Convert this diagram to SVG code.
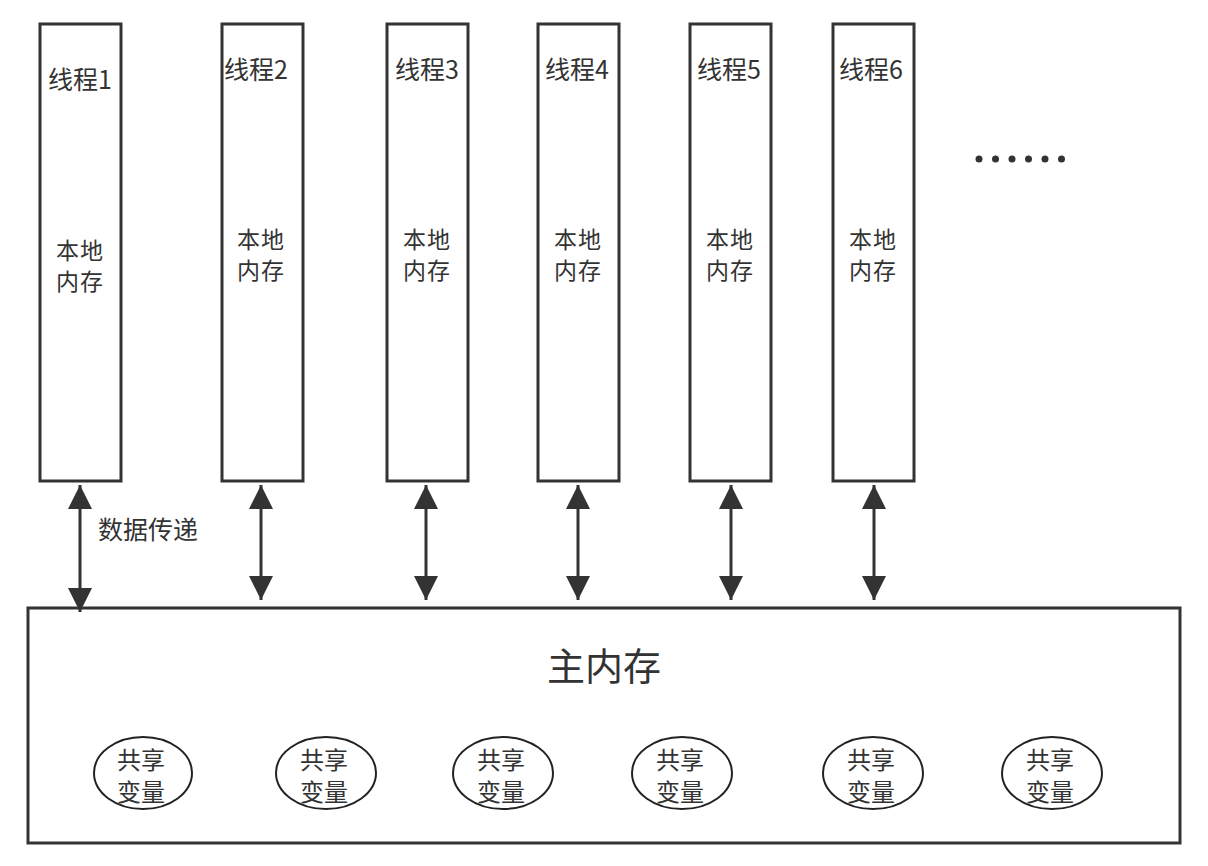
<svg xmlns="http://www.w3.org/2000/svg" width="1208" height="866" viewBox="0 0 1208 866">
<style>
.box{fill:#fff;stroke:#333;stroke-width:3}
.ell{fill:#fff;stroke:#222;stroke-width:2}
text{font-family:"Noto Sans CJK SC","Noto Sans",sans-serif;fill:#333;text-anchor:middle}
.t{font-size:25px}
.m{font-size:23px;letter-spacing:1px}
.s{font-size:24px}
.link{stroke:#333;stroke-width:3;fill:none;marker-start:url(#ah);marker-end:url(#ah)}
</style>
<defs>
<marker id="ah" viewBox="0 0 10 10" refX="10" refY="5" markerWidth="8" markerHeight="10" markerUnits="strokeWidth" orient="auto-start-reverse">
<path d="M0,0 L10,5 L0,10 z" fill="#333"/>
</marker>
</defs>
<rect width="1208" height="866" fill="#fff"/>
<g id="main-memory">
<rect class="box" x="28" y="608" width="1152" height="235"/>
<text x="604" y="680" style="font-size:38px">主内存</text>
</g>
<g id="var1"><ellipse class="ell" cx="143" cy="773" rx="49" ry="36"/><text class="s"><tspan x="141" y="769">共享</tspan><tspan x="141" y="801">变量</tspan></text></g>
<g id="var2"><ellipse class="ell" cx="326" cy="773" rx="50" ry="36"/><text class="s"><tspan x="324" y="769">共享</tspan><tspan x="324" y="801">变量</tspan></text></g>
<g id="var3"><ellipse class="ell" cx="503" cy="773" rx="50" ry="36"/><text class="s"><tspan x="501" y="769">共享</tspan><tspan x="501" y="801">变量</tspan></text></g>
<g id="var4"><ellipse class="ell" cx="682" cy="773" rx="50" ry="36"/><text class="s"><tspan x="680" y="769">共享</tspan><tspan x="680" y="801">变量</tspan></text></g>
<g id="var5"><ellipse class="ell" cx="873" cy="773" rx="50" ry="36"/><text class="s"><tspan x="871" y="769">共享</tspan><tspan x="871" y="801">变量</tspan></text></g>
<g id="var6"><ellipse class="ell" cx="1052" cy="773" rx="50" ry="36"/><text class="s"><tspan x="1050" y="769">共享</tspan><tspan x="1050" y="801">变量</tspan></text></g>
<g id="thread1"><rect class="box" x="40" y="24" width="81" height="457"/><text class="t" x="80" y="89">线程1</text><text class="m"><tspan x="80" y="259">本地</tspan><tspan x="80" y="290">内存</tspan></text></g>
<g id="thread2"><rect class="box" x="222" y="24" width="81" height="457"/><text class="t" x="256" y="79">线程2</text><text class="m"><tspan x="261" y="248">本地</tspan><tspan x="261" y="279">内存</tspan></text></g>
<g id="thread3"><rect class="box" x="387" y="24" width="81" height="457"/><text class="t" x="427" y="79">线程3</text><text class="m"><tspan x="427" y="248">本地</tspan><tspan x="427" y="279">内存</tspan></text></g>
<g id="thread4"><rect class="box" x="538" y="24" width="81" height="457"/><text class="t" x="577" y="79">线程4</text><text class="m"><tspan x="578" y="248">本地</tspan><tspan x="578" y="279">内存</tspan></text></g>
<g id="thread5"><rect class="box" x="690" y="24" width="81" height="457"/><text class="t" x="729" y="79">线程5</text><text class="m"><tspan x="730" y="248">本地</tspan><tspan x="730" y="279">内存</tspan></text></g>
<g id="thread6"><rect class="box" x="833" y="24" width="81" height="457"/><text class="t" x="871" y="79">线程6</text><text class="m"><tspan x="873" y="248">本地</tspan><tspan x="873" y="279">内存</tspan></text></g>
<g id="ellipsis" fill="#333">
<circle cx="979" cy="159" r="3.5"/><circle cx="995.5" cy="159" r="3.5"/><circle cx="1012" cy="159" r="3.5"/><circle cx="1028.5" cy="159" r="3.5"/><circle cx="1045" cy="159" r="3.5"/><circle cx="1061.5" cy="159" r="3.5"/>
</g>
<g id="connectors">
<line class="link" x1="80" y1="485" x2="80" y2="612"/>
<line class="link" x1="261" y1="485" x2="261" y2="600"/>
<line class="link" x1="426" y1="485" x2="426" y2="600"/>
<line class="link" x1="578" y1="485" x2="578" y2="600"/>
<line class="link" x1="731" y1="485" x2="731" y2="600"/>
<line class="link" x1="874" y1="485" x2="874" y2="600"/>
<text x="148" y="539" style="font-size:25px">数据传递</text>
</g>
</svg>
